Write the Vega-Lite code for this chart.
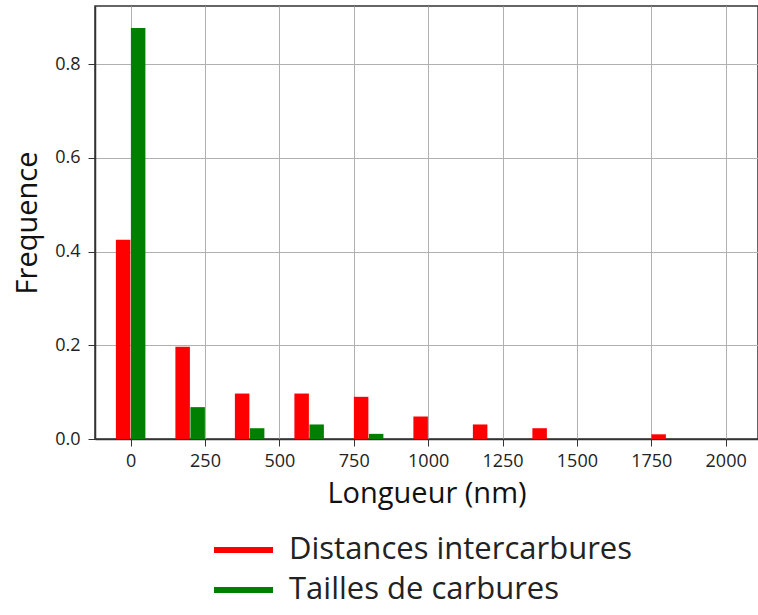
{
  "$schema": "https://vega.github.io/schema/vega-lite/v6.json",
  "width": 663,
  "height": 433,
  "autosize": {"type": "none"},
  "padding": {"left": 95, "top": 6, "right": 0, "bottom": 176},
  "background": "white",
  "config": {
    "view": {"stroke": "#333", "strokeWidth": 1.5},
    "font": "Open Sans",
    "axis": {
      "grid": true,
      "gridColor": "#b0b0b0",
      "gridWidth": 1,
      "domainColor": "#333",
      "domainWidth": 1.5,
      "tickColor": "#333",
      "tickSize": 7,
      "tickWidth": 1,
      "labelColor": "#222",
      "labelFontSize": 18,
      "labelFont": "Open Sans",
      "titleFont": "Open Sans",
      "titleColor": "#111",
      "titleFontWeight": "normal",
      "titleFontSize": 29
    }
  },
  "data": {
    "values": [
      {"bin": 0, "series": "Distances intercarbures", "freq": 0.425},
      {"bin": 200, "series": "Distances intercarbures", "freq": 0.197},
      {"bin": 400, "series": "Distances intercarbures", "freq": 0.097},
      {"bin": 600, "series": "Distances intercarbures", "freq": 0.097},
      {"bin": 800, "series": "Distances intercarbures", "freq": 0.090},
      {"bin": 1000, "series": "Distances intercarbures", "freq": 0.048},
      {"bin": 1200, "series": "Distances intercarbures", "freq": 0.031},
      {"bin": 1400, "series": "Distances intercarbures", "freq": 0.023},
      {"bin": 1600, "series": "Distances intercarbures", "freq": 0.0},
      {"bin": 1800, "series": "Distances intercarbures", "freq": 0.010},
      {"bin": 0, "series": "Tailles de carbures", "freq": 0.877},
      {"bin": 200, "series": "Tailles de carbures", "freq": 0.068},
      {"bin": 400, "series": "Tailles de carbures", "freq": 0.023},
      {"bin": 600, "series": "Tailles de carbures", "freq": 0.031},
      {"bin": 800, "series": "Tailles de carbures", "freq": 0.011}
    ]
  },
  "encoding": {
    "x": {
      "field": "bin",
      "type": "quantitative",
      "scale": {"domain": [-103, 2092], "nice": false, "zero": false},
      "axis": {
        "values": [0, 250, 500, 750, 1000, 1250, 1500, 1750, 2000],
        "format": "d",
        "title": "Longueur (nm)",
        "labelPadding": 6,
        "titlePadding": 9
      }
    },
    "y": {
      "field": "freq",
      "type": "quantitative",
      "scale": {"domain": [0, 0.924], "nice": false},
      "axis": {
        "values": [0, 0.2, 0.4, 0.6, 0.8],
        "format": ".1f",
        "title": "Frequence",
        "labelPadding": 8,
        "titlePadding": 12
      }
    },
    "color": {
      "field": "series",
      "type": "nominal",
      "scale": {
        "domain": ["Distances intercarbures", "Tailles de carbures"],
        "range": ["#ff0000", "#008000"]
      },
      "legend": {
        "orient": "none",
        "legendX": 116,
        "legendY": 527,
        "direction": "vertical",
        "title": null,
        "padding": 0,
        "symbolType": "stroke",
        "symbolSize": 3481,
        "symbolStrokeWidth": 6,
        "labelFontSize": 31,
        "labelFont": "Open Sans",
        "labelColor": "#222",
        "labelOffset": 13,
        "labelLimit": 600,
        "clipHeight": 34,
        "rowPadding": 6,
        "encode": {
          "symbols": {
            "update": {
              "stroke": {"scale": "color", "field": "value"},
              "strokeWidth": {"value": 6}
            }
          }
        }
      }
    }
  },
  "layer": [
    {
      "transform": [{"filter": "datum.series === 'Distances intercarbures'"}],
      "mark": {"type": "bar", "width": 14.5, "xOffset": -7.5}
    },
    {
      "transform": [{"filter": "datum.series === 'Tailles de carbures'"}],
      "mark": {"type": "bar", "width": 14.5, "xOffset": 7.5}
    }
  ]
}
